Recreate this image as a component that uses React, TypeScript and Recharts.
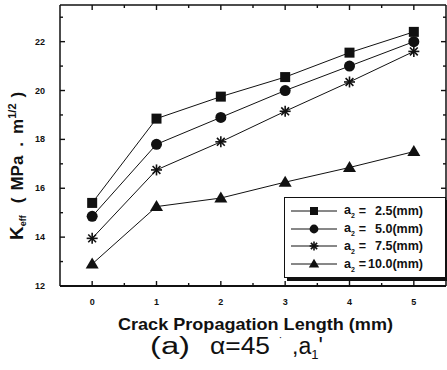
import React from "react";
import { LineChart, Line, XAxis, YAxis, Legend, Label } from "recharts";

// crack propagation length (mm)
const lengths = [0, 1, 2, 3, 4, 5];
// K_eff (MPa·m^1/2) per a2 depth
const a2_25 = [15.4, 18.85, 19.75, 20.55, 21.55, 22.4];
const a2_50 = [14.85, 17.8, 18.9, 20.0, 21.0, 22.0];
const a2_75 = [13.95, 16.75, 17.9, 19.15, 20.35, 21.6];
const a2_100 = [12.9, 15.25, 15.6, 16.25, 16.85, 17.5];
const seriesNames = ["2.5", "5.0", "7.5", "10.0"];
const xTicks = [0, 0.5, 1, 1.5, 2, 2.5, 3, 3.5, 4, 4.5, 5];
const yTicks = [12, 13, 14, 15, 16, 17, 18, 19, 20, 21, 22, 23];

const data = lengths.map((x, i) => ({
  x,
  s25: a2_25[i],
  s50: a2_50[i],
  s75: a2_75[i],
  s100: a2_100[i],
}));

const FONT = "'Liberation Sans', Arial, sans-serif";
const INK = "#111";

type Shape = "square" | "circle" | "star" | "triangle";

function Marker({ cx, cy, shape, s = 1 }: { cx: number; cy: number; shape: Shape; s?: number }) {
  if (shape === "square")
    return <rect x={cx - 5 * s} y={cy - 5 * s} width={10 * s} height={10 * s} fill={INK} />;
  if (shape === "circle") return <circle cx={cx} cy={cy} r={5.5 * s} fill={INK} />;
  if (shape === "triangle")
    return (
      <path
        d={`M${cx},${cy - 6.5 * s} L${cx + 6.5 * s},${cy + 4.5 * s} L${cx - 6.5 * s},${cy + 4.5 * s} Z`}
        fill={INK}
      />
    );
  const r = 5.5 * s;
  const d = 3.9 * s;
  return (
    <g stroke={INK} strokeWidth={1.6}>
      <line x1={cx - r} y1={cy} x2={cx + r} y2={cy} />
      <line x1={cx} y1={cy - r} x2={cx} y2={cy + r} />
      <line x1={cx - d} y1={cy - d} x2={cx + d} y2={cy + d} />
      <line x1={cx - d} y1={cy + d} x2={cx + d} y2={cy - d} />
    </g>
  );
}

const dotFor = (shape: Shape) => (p: any) =>
  <Marker key={p.key ?? p.index} cx={p.cx} cy={p.cy} shape={shape} />;

function XTick(props: any) {
  const { x, y, payload, top } = props;
  const major = Number.isInteger(payload.value);
  const len = major ? 5 : 3;
  const dir = top ? 1 : -1;
  return (
    <g>
      <line x1={x} y1={y} x2={x} y2={y + dir * len} stroke={INK} strokeWidth={1.4} />
      {!top && major && (
        <text x={x} y={y + 19} textAnchor="middle" fontFamily={FONT} fontWeight="bold" fontSize={9} fill={INK}>
          {payload.value}
        </text>
      )}
    </g>
  );
}

function YTick(props: any) {
  const { x, y, payload, right } = props;
  const major = payload.value % 2 === 0;
  const len = major ? 5 : 3;
  const dir = right ? -1 : 1;
  return (
    <g>
      <line x1={x} y1={y} x2={x + dir * len} y2={y} stroke={INK} strokeWidth={1.4} />
      {!right && major && (
        <text x={x - 15} y={y + 3} textAnchor="end" fontFamily={FONT} fontWeight="bold" fontSize={9} fill={INK}>
          {payload.value}
        </text>
      )}
    </g>
  );
}

function XLabels({ viewBox }: any) {
  const left = viewBox.x;
  const base = viewBox.y;
  return (
    <g fill={INK} fontFamily={FONT}>
      <text x={left + 58} y={base + 44} fontWeight="bold" fontSize={17} textLength={275} lengthAdjust="spacingAndGlyphs">
        Crack Propagation Length (mm)
      </text>
      <text x={left + 90} y={base + 68} fontSize={23} textLength={40} lengthAdjust="spacingAndGlyphs">
        (a)
      </text>
      <text x={left + 150} y={base + 68} fontSize={23} textLength={60} lengthAdjust="spacingAndGlyphs">
        α=45
      </text>
      <text x={left + 219} y={base + 60} fontSize={12}>
        ˙
      </text>
      <text x={left + 232} y={base + 68} fontSize={23}>
        ,a<tspan fontSize={13} dy={5}>1</tspan>
        <tspan dy={-5}>'</tspan>
      </text>
    </g>
  );
}

function YLabel({ viewBox }: any) {
  const x = 23;
  const y = viewBox.y + viewBox.height - 46;
  return (
    <text
      x={x}
      y={y}
      transform={`rotate(-90 ${x} ${y})`}
      textAnchor="start"
      fontFamily={FONT}
      fontWeight="bold"
      fontSize={17}
      fill={INK}
    >
      <tspan fontSize={19}>K</tspan>
      <tspan fontSize={9} dy={3}>eff</tspan>
      <tspan dy={-3} dx={12}>(</tspan>
      <tspan dx={7}>MPa</tspan>
      <tspan dx={9}>.</tspan>
      <tspan dx={8}>m</tspan>
      <tspan fontSize={11} dy={-7}>1/2</tspan>
      <tspan dy={7} dx={6}>)</tspan>
    </text>
  );
}

const shapes: Shape[] = ["square", "circle", "star", "triangle"];

function LegendBox() {
  return (
    <div
      style={{
        border: `1.5px solid ${INK}`,
        boxShadow: `3px 3px 0 ${INK}`,
        background: "#fff",
        padding: "4px 0 3px 6px",
        boxSizing: "border-box",
        width: 162,
        height: 81,
        fontFamily: FONT,
        fontWeight: "bold",
        fontSize: 12.5,
        color: INK,
      }}
    >
      {seriesNames.map((n, i) => (
        <div key={n} style={{ display: "flex", alignItems: "center", height: 17.8 }}>
          <svg width={46} height={14}>
            <line x1={0} y1={7} x2={46} y2={7} stroke={INK} strokeWidth={1} />
            <Marker cx={23} cy={7} shape={shapes[i]} s={0.8} />
          </svg>
          <span style={{ marginLeft: 7, width: 14, whiteSpace: "pre" }}>
            a<sub style={{ fontSize: 7 }}>2</sub>
          </span>
          <span style={{ width: 9, textAlign: "center" }}>=</span>
          <span style={{ width: 56, textAlign: "right" }}>{n}(mm)</span>
        </div>
      ))}
    </div>
  );
}

export default function App() {
  return (
    <div style={{ position: "absolute", left: 0, top: 0, background: "#fff" }}>
      <LineChart width={447} height={370} data={data} margin={{ top: 4, right: 0, bottom: 83, left: 59 }}>
        <XAxis
          dataKey="x"
          type="number"
          domain={[-0.5, 5.5]}
          ticks={xTicks}
          interval={0}
          height={1}
          tickSize={0}
          tickMargin={0}
          tick={<XTick />}
          stroke={INK}
          strokeWidth={1.8}
          allowDataOverflow
        >
          <Label content={<XLabels />} />
        </XAxis>
        <XAxis
          xAxisId="top"
          orientation="top"
          dataKey="x"
          type="number"
          domain={[-0.5, 5.5]}
          ticks={xTicks}
          interval={0}
          height={1}
          tickSize={0}
          tickMargin={0}
          tick={<XTick top />}
          stroke={INK}
          strokeWidth={1.5}
          allowDataOverflow
        />
        <YAxis
          type="number"
          domain={[12, 23.5]}
          ticks={yTicks}
          interval={0}
          width={1}
          tickSize={0}
          tickMargin={0}
          tick={<YTick />}
          stroke={INK}
          strokeWidth={1.5}
          allowDataOverflow
        >
          <Label content={<YLabel />} />
        </YAxis>
        <YAxis
          yAxisId="right"
          orientation="right"
          type="number"
          domain={[12, 23.5]}
          ticks={yTicks}
          interval={0}
          width={1}
          tickSize={0}
          tickMargin={0}
          tick={<YTick right />}
          stroke={INK}
          strokeWidth={1.5}
          allowDataOverflow
        />
        <Legend
          layout="horizontal"
          verticalAlign="middle"
          align="center"
          content={<LegendBox />}
          wrapperStyle={{ position: "absolute", left: 284, top: 197, width: 162, height: 81 }}
        />
        <Line dataKey="s25" name="2.5" stroke={INK} strokeWidth={1} dot={dotFor("square")} isAnimationActive={false} />
        <Line dataKey="s50" name="5.0" stroke={INK} strokeWidth={1} dot={dotFor("circle")} isAnimationActive={false} />
        <Line dataKey="s75" name="7.5" stroke={INK} strokeWidth={1} dot={dotFor("star")} isAnimationActive={false} />
        <Line dataKey="s100" name="10.0" stroke={INK} strokeWidth={1} dot={dotFor("triangle")} isAnimationActive={false} />
      </LineChart>
    </div>
  );
}
